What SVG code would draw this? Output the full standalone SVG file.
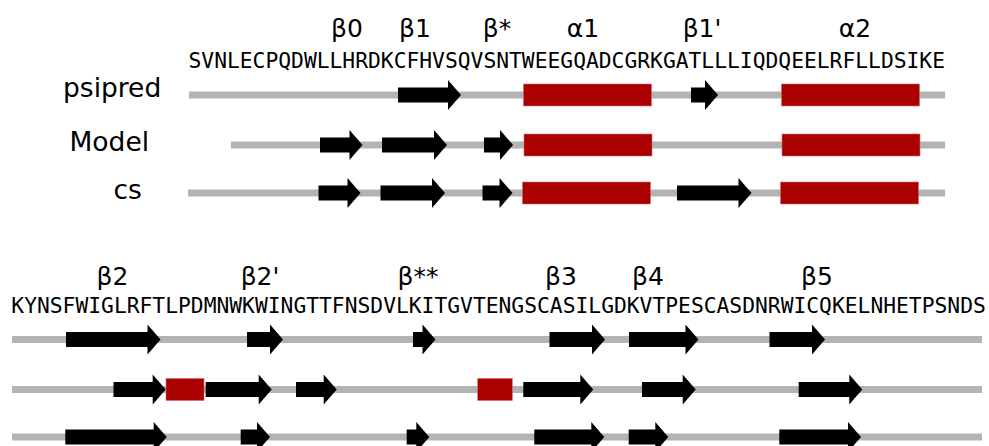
<svg xmlns="http://www.w3.org/2000/svg" width="989" height="446" viewBox="0 0 989 446">
<style>
.seq{font-family:"DejaVu Sans Mono","Liberation Mono",monospace;font-size:21.3px;fill:#000}
.lab{font-family:"DejaVu Sans","Liberation Sans",sans-serif;font-size:25px;fill:#000;text-anchor:middle}
.name{font-family:"DejaVu Sans","Liberation Sans",sans-serif;font-size:26.5px;fill:#000}
.bb{stroke:#b3b3b3;stroke-width:7;fill:none}
.st{fill:#000}
.hx{fill:#aa0000;stroke:#d46a6a;stroke-width:0.6}
</style>
<defs>
<clipPath id="clipL"><rect x="10.5" y="0" width="978" height="446"/></clipPath>
</defs>
<rect width="989" height="446" fill="#fff"/>

<g id="top-labels">
<text class="lab" x="347" y="37">β0</text>
<text class="lab" x="415" y="37">β1</text>
<text class="lab" x="497" y="37">β*</text>
<text class="lab" x="583" y="37">α1</text>
<text class="lab" x="702" y="37">β1'</text>
<text class="lab" x="855" y="37">α2</text>
</g>
<text id="top-seq" class="seq" x="188.5" y="68">SVNLECPQDWLLHRDKCFHVSQVSNTWEEGQADCGRKGATLLLIQDQEELRFLLDSIKE</text>

<g id="row-names">
<text class="name" x="63" y="97">psipred</text>
<text class="name" x="69.5" y="151">Model</text>
<text class="name" x="113.5" y="199">cs</text>
</g>

<g id="top-psipred">
<line class="bb" x1="189" y1="95" x2="945" y2="95"/>
<path class="st" d="M398,87.5H448V80L461,95L448,110V102.5H398Z"/>
<rect class="hx" x="523.5" y="84" width="128" height="22"/>
<path class="st" d="M691,87.5H705V80L718,95L705,110V102.5H691Z"/>
<rect class="hx" x="781.5" y="84" width="138" height="22"/>
</g>

<g id="top-model">
<line class="bb" x1="231" y1="145" x2="945" y2="145"/>
<path class="st" d="M320,137.5H349.5V130L362.5,145L349.5,160V152.5H320Z"/>
<path class="st" d="M382,137.5H434V130L447,145L434,160V152.5H382Z"/>
<path class="st" d="M484,137.5H500V130L513,145L500,160V152.5H484Z"/>
<rect class="hx" x="524" y="134" width="128" height="22"/>
<rect class="hx" x="782" y="134" width="138" height="22"/>
</g>

<g id="top-cs">
<line class="bb" x1="188" y1="193" x2="945" y2="193"/>
<path class="st" d="M318.5,185.5H347.5V178L360.5,193L347.5,208V200.5H318.5Z"/>
<path class="st" d="M380.5,185.5H432V178L445,193L432,208V200.5H380.5Z"/>
<path class="st" d="M482.5,185.5H499.5V178L512.5,193L499.5,208V200.5H482.5Z"/>
<rect class="hx" x="522.5" y="182" width="128" height="22"/>
<path class="st" d="M677,185.5H738.5V178L751.5,193L738.5,208V200.5H677Z"/>
<rect class="hx" x="780.5" y="182" width="138" height="22"/>
</g>

<g id="bottom-labels">
<text class="lab" x="112.5" y="285">β2</text>
<text class="lab" x="260" y="285">β2'</text>
<text class="lab" x="418" y="285">β**</text>
<text class="lab" x="561" y="285">β3</text>
<text class="lab" x="648" y="285">β4</text>
<text class="lab" x="817" y="285">β5</text>
</g>
<text id="bottom-seq" class="seq" x="-1.5" y="313" clip-path="url(#clipL)">EKYNSFWIGLRFTLPDMNWKWINGTTFNSDVLKITGVTENGSCASILGDKVTPESCASDNRWICQKELNHETPSNDS</text>

<g id="bottom-psipred">
<line class="bb" x1="12" y1="339.5" x2="982" y2="339.5"/>
<path class="st" d="M66,332H147.5V324.5L160.5,339.5L147.5,354.5V347H66Z"/>
<path class="st" d="M247,332H270V324.5L283,339.5L270,354.5V347H247Z"/>
<path class="st" d="M413,332H422.5V324.5L435.5,339.5L422.5,354.5V347H413Z"/>
<path class="st" d="M549.5,332H592V324.5L605,339.5L592,354.5V347H549.5Z"/>
<path class="st" d="M629,332H685.5V324.5L698.5,339.5L685.5,354.5V347H629Z"/>
<path class="st" d="M769.5,332H812V324.5L825,339.5L812,354.5V347H769.5Z"/>
</g>

<g id="bottom-model">
<line class="bb" x1="12" y1="389.5" x2="982" y2="389.5"/>
<path class="st" d="M113.5,382H152.7V374.5L165.7,389.5L152.7,404.5V397H113.5Z"/>
<rect class="hx" x="166" y="378.5" width="38" height="22"/>
<path class="st" d="M205.7,382H258.7V374.5L271.7,389.5L258.7,404.5V397H205.7Z"/>
<path class="st" d="M296,382H323.7V374.5L336.7,389.5L323.7,404.5V397H296Z"/>
<rect class="hx" x="477.7" y="378.5" width="34.6" height="22"/>
<path class="st" d="M523.3,382H580.3V374.5L593.3,389.5L580.3,404.5V397H523.3Z"/>
<path class="st" d="M642,382H682.7V374.5L695.7,389.5L682.7,404.5V397H642Z"/>
<path class="st" d="M798.7,382H849.3V374.5L862.3,389.5L849.3,404.5V397H798.7Z"/>
</g>

<g id="bottom-cs">
<line class="bb" x1="12" y1="437" x2="982" y2="437"/>
<path class="st" d="M65.3,429.5H153.7V422L166.7,437L153.7,452V444.5H65.3Z"/>
<path class="st" d="M240.7,429.5H257V422L270,437L257,452V444.5H240.7Z"/>
<path class="st" d="M406.7,429.5H416.3V422L429.3,437L416.3,452V444.5H406.7Z"/>
<path class="st" d="M534.3,429.5H591.3V422L604.3,437L591.3,452V444.5H534.3Z"/>
<path class="st" d="M628.7,429.5H655.3V422L668.3,437L655.3,452V444.5H628.7Z"/>
<path class="st" d="M779.3,429.5H848V422L861,437L848,452V444.5H779.3Z"/>
</g>
</svg>
